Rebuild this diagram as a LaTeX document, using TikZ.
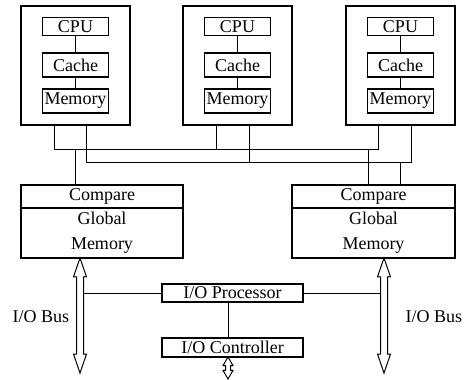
\documentclass[tikz,border=0pt]{standalone}
\usepackage{fontspec}
\setmainfont{Liberation Serif}
\usetikzlibrary{shapes.arrows}

\begin{document}
\begin{tikzpicture}[x=1pt,y=-1pt,
    every node/.style={font=\fontsize{18}{25}\selectfont,inner sep=0pt},
    pbox/.style={draw,line width=1.5pt,minimum width=109pt,minimum height=119pt},
    ubox/.style={draw,line width=1.2pt,minimum width=66pt,minimum height=24pt},
    gbox/.style={draw,line width=1.2pt,minimum height=23pt,align=center},
    iobox/.style={draw,line width=1.2pt,minimum width=141pt,minimum height=19pt},
    busarrow/.style={draw,fill=white,line width=1pt,double arrow,rotate=90,
        inner sep=3pt,double arrow head extend=3pt,double arrow tip angle=38},
    wire/.style={line width=0.9pt}]
    \useasboundingbox (0,0) rectangle (464,380);

    \node[pbox] (p1) at (75.5,65.5) {};
    \node[pbox] (p2) at (237.5,65.5) {};
    \node[pbox] (p3) at (400.5,65.5) {};

    \node[ubox,minimum height=18pt] (cpu1) at (75.5,26.5) {CPU};
    \node[ubox] (cache1) at (75.5,65) {Cache};
    \node[ubox] (mem1) at (75.5,101) {Memory};
    \node[ubox,minimum height=18pt] (cpu2) at (237.5,26.5) {CPU};
    \node[ubox] (cache2) at (237.5,65) {Cache};
    \node[ubox] (mem2) at (237.5,101) {Memory};
    \node[ubox,minimum height=18pt] (cpu3) at (400.5,26.5) {CPU};
    \node[ubox] (cache3) at (400.5,65) {Cache};
    \node[ubox] (mem3) at (400.5,101) {Memory};

    \draw[wire] (cpu1) -- (cache1) -- (mem1);
    \draw[wire] (cpu2) -- (cache2) -- (mem2);
    \draw[wire] (cpu3) -- (cache3) -- (mem3);

    \node[gbox,minimum width=162pt] (cmp1) at (102,196.5) {Compare};
    \node[gbox,minimum width=162pt,minimum height=50pt] (gm1) at (102,233) {Global\\Memory};
    \node[gbox,minimum width=163pt] (cmp2) at (373.5,196.5) {Compare};
    \node[gbox,minimum width=163pt,minimum height=50pt] (gm2) at (373.5,233) {Global\\Memory};

    % the two buses between the processors
    \coordinate (ua) at (54,149);
    \coordinate (ub) at (378,149);
    \coordinate (u2) at (216,149);
    \coordinate (u3) at (75,149);
    \coordinate (u4) at (368,149);
    \coordinate (la) at (86,162);
    \coordinate (lb) at (411,162);
    \coordinate (l2) at (249,162);
    \coordinate (l3) at (400,162);

    \draw[wire] (p1.south -| ua) -- (ua) -- (ub) -- (p3.south -| ub);
    \draw[wire] (p1.south -| la) -- (la) -- (lb) -- (p3.south -| lb);
    \draw[wire] (p2.south -| u2) -- (u2);
    \draw[wire] (p2.south -| l2) -- (l2);
    \draw[wire] (u3) -- (cmp1.north -| u3);
    \draw[wire] (u4) -- (cmp2.north -| u4);
    \draw[wire] (l3) -- (cmp2.north -| l3);

    \node[iobox,minimum height=18pt] (pio) at (232.5,293) {I/O Processor};
    \node[iobox] (ctl) at (232.5,347.5) {I/O Controller};

    \node[busarrow,minimum height=115pt] (bus1) at (80,315.5) {};
    \node[busarrow,minimum height=115pt] (bus2) at (384,315.5) {};
    \node[busarrow,minimum height=22pt,inner sep=2pt,double arrow head extend=2.5pt,
        double arrow tip angle=60] (cio) at (228,368) {};

    \draw[wire] (pio.west) -- ([xshift=3pt]pio.west -| bus1.center);
    \draw[wire] (pio.east) -- ([xshift=-3pt]pio.east -| bus2.center);
    \draw[wire] ([xshift=-4.5pt]pio.south) -- ([xshift=-4.5pt]ctl.north);

    \node (lbl1) at (41,317) {I/O Bus};
    \node (lbl2) at (434,317) {I/O Bus};
\end{tikzpicture}
\end{document}
